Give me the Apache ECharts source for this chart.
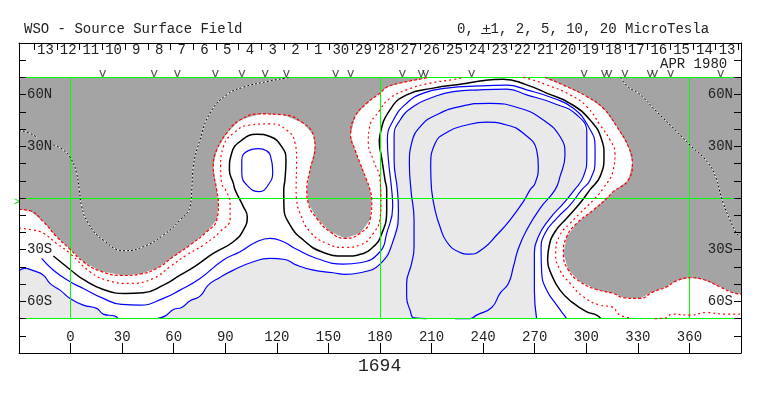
<!DOCTYPE html>
<html>
<head>
<meta charset="utf-8">
<style>
  html, body { margin: 0; padding: 0; background: #fff; }
  #chart { width: 763px; height: 396px; }
</style>
<script src="https://cdn.jsdelivr.net/npm/echarts@6/dist/echarts.min.js"></script>
</head>
<body>
<div id="chart"></div>
<script>
// all contours are [longitude, latitude]
const lonTicks = [0, 30, 60, 90, 120, 150, 180, 210, 240, 270, 300, 330, 360];
const latLabels = { 60: '60N', 30: '30N', '-30': '30S', '-60': '60S' };
const dayTicks = [-21.2, -8, 5.2, 18.4, 31.6, 44.9, 58.1, 71.3, 84.5, 97.7, 110.9, 124.2, 137.4, 150.6, 163.8, 177,
  190.2, 203.5, 216.7, 229.9, 243.1, 256.3, 269.5, 282.8, 296, 309.2, 322.4, 335.6, 348.8, 362.1, 375.3, 388.5];
const dayNames = ['13', '12', '11', '10', '9', '8', '7', '6', '5', '4', '3', '2', '1', '30', '29', '28', '27', '26',
  '25', '24', '23', '22', '21', '20', '19', '18', '17', '16', '15', '14', '13'];
const sectorMarks = [18.7, 48.6, 62.1, 84.2, 99.7, 113.2, 125.6, 154.2, 162.9, 193, 203.9, 206.5, 233.3, 298.7,
  310.6, 313.2, 322.5, 337.1, 339.7, 349.1, 378.2];
const greenVertical = [0, 180, 360];
const greenHorizontal = [70, 0, -70];
const plotBox = [[-30, 70], [390, 70], [390, -70], [-30, -70]];

const red1a = [[-30, -6.6], [-23.6, -7.4], [-15.8, -13.8], [-8.1, -22.5], [-0.3, -29.8], [7.4, -37], [17.1, -42.4],
  [30.7, -45], [40.4, -44.2], [50.1, -40.9], [59.8, -34.1], [69.5, -27.3], [79.2, -19.6], [85, -12.8], [86, -3.1],
  [85, 4.7], [83, 18.2], [85, 27.9], [90.8, 37.6], [98.6, 45.3], [110.2, 48.8], [123.8, 48.3], [135.4, 43.4],
  [141.2, 36.6], [142.2, 29.8], [139.3, 16.3], [137.4, 4.7], [138.3, -3.1], [143.2, -11.8], [150.9, -19.6],
  [159.7, -23.4], [168.4, -20.5], [174.2, -12.8], [175.2, -1.2], [174.2, 4.7], [172.2, 10.5], [168.4, 20.2],
  [165.5, 27.9], [162.9, 36.6], [165.5, 47.3], [172.3, 55], [180, 60.9], [183.9, 64.3], [191.6, 66.7], [205.2, 69.4],
  [208.1, 70]];
const red1b = [[276, 70], [288.6, 64.7], [300.3, 58.9], [309.9, 52.1], [317.7, 41.5], [324.5, 29.8], [326.8, 20.2],
  [324.5, 10.5], [315.7, 3.7], [311.9, -0.2], [304.1, -7], [294.4, -14.7], [288.6, -22.5], [286.7, -32.2],
  [289.6, -41.9], [296.3, -48.6], [305.9, -53.1], [315.7, -55.4], [321.5, -57.8], [331.2, -58.3], [338.9, -54.5],
  [346.7, -51.6], [352.5, -48.1], [360.3, -46.3], [368, -47.3], [377.7, -51.6], [385.3, -55], [390, -55.8]];

const red2a = [[-30, -17.6], [-21.7, -18.6], [-15.8, -20.5], [-8.1, -26.4], [-0.3, -32.2], [11.3, -42.8], [21, -47.7],
  [34.6, -49.6], [48.1, -46.7], [57.8, -39.9], [67.5, -33.1], [77.2, -27.3], [86.9, -19.6], [92.8, -11.8],
  [92.8, -3.1], [90.2, 4.7], [87.9, 8.5], [87.3, 18.2], [88.9, 29.8], [94.7, 37.6], [104.4, 42.4], [116, 43],
  [125.7, 39.5], [130.6, 31.8], [131.5, 22.1], [131.2, 4.7], [131.5, -1.2], [133.5, -8.9], [139.3, -19.6],
  [149, -26.4], [159.7, -28.7], [168.4, -27.3], [176.1, -20.5], [180, -11.8], [180.6, -3.1], [180, 10.5],
  [176.1, 22.1], [173.2, 31.8], [173.8, 40.5], [180, 51.2], [185.8, 57.9], [195.5, 62.8], [209.1, 66.7],
  [221.7, 68.6], [228.5, 70]];
const red2b = [[263.4, 70], [267.3, 69], [277, 65.7], [290.6, 59.9], [300.3, 53.1], [308, 42.4], [313.8, 33.7],
  [316.7, 26], [315.7, 16.3], [309.9, 5.6], [304.1, -1.2], [296.3, -8.9], [290.6, -14.7], [284.7, -21.5],
  [282.2, -32.2], [284.7, -41.9], [290.6, -49.6], [298.3, -57.4], [308, -62.2], [314.8, -63.2], [319.6, -68],
  [326.8, -69.6]];
const red2c = [[340, -70], [346.7, -69.6], [349.6, -67.4], [360.3, -68], [370, -66.5], [379.7, -67.4], [390, -67.4]];

const neutral = [[-10, -33.7], [-0.3, -41.5], [7.4, -47.3], [19, -53.1], [31.7, -55.4], [42.3, -55], [54, -50.6],
  [63.7, -44.8], [71.4, -40.3], [83, -32.2], [94.7, -25.4], [100.5, -18.6], [102.8, -10.9], [100.5, -5], [95.7, 4.7],
  [94.7, 8.5], [92.4, 16.3], [93.7, 26], [98.6, 32.8], [108.3, 37], [116, 35.7], [122.8, 29.8], [125.3, 22.1],
  [124.7, 10.5], [124, 4.7], [124.1, -5], [127.7, -15.7], [135.4, -24.4], [146, -31.2], [159.7, -33.7], [170.3, -32.2],
  [176.1, -28.3], [180, -23.4], [183.9, -7], [183.9, 4.7], [182.9, 10.5], [181, 23.1], [179.6, 32.8], [180, 36.6],
  [185.8, 51.2], [195.5, 59.9], [211, 63.8], [228.5, 66.3], [238.2, 68], [251.7, 69], [265.3, 65.7], [276.9, 60.9],
  [290.5, 55], [302.2, 45.3], [309, 33.7], [310.3, 25], [308, 12.4], [302.1, 4.7], [296.3, -3.1], [288.6, -11.8],
  [281.8, -19.6], [278.3, -28.3], [277.5, -36], [279.9, -44.8], [284.7, -53.5], [291.5, -60.3], [300.3, -66.1],
  [306, -68], [308.4, -70]];

const blue1 = [[-16.8, -35.1], [-10, -41.9], [-0.3, -48.6], [7.4, -52.5], [19, -58.3], [29.7, -61.8], [40.4, -62.2],
  [54, -58.3], [63.7, -53.5], [75.3, -46.7], [88.9, -36], [98.6, -31.2], [108.3, -25.4], [116, -23.4], [123.8, -25.4],
  [131.5, -29.8], [143.2, -35.1], [158.7, -38.4], [168.4, -37.6], [180, -31.2], [183.9, -20.5], [187.4, -5],
  [186.8, 4.7], [184.9, 22.1], [184.3, 33.7], [187.8, 45.3], [195.5, 55], [205.2, 60.9], [218.8, 63.8], [238.2, 65.1],
  [253.7, 65.5], [265.3, 62.8], [280.9, 57.9], [292.5, 52.1], [301.2, 41.5], [305.1, 29.8], [305.1, 22.1],
  [302.2, 10.5], [297.3, 4.7], [290.5, -4.1], [282.8, -11.8], [276, -20.5], [273.7, -30.2], [274.1, -43.8],
  [277, -53.5], [282.8, -62.2], [288.6, -70]];
const blueLoop = [[109.2, 28.7], [103.4, 27.5], [99.6, 22.1], [99.6, 14.3], [103.4, 6.6], [109.8, 3.7], [115, 7.6],
  [117.6, 15.3], [116.4, 24], [114, 27.5], [109.2, 28.7]];
const blue2a = [[-30, -42.2], [-26.5, -40.9], [-21.7, -42.2], [-15.8, -44.8], [-12, -49.6], [-6.1, -53.5],
  [-0.3, -58.3], [7.4, -62.2], [15.2, -64.1], [19, -67.4], [25.8, -68.6], [27.7, -70]];
const blue2b = [[50.1, -70], [54.9, -68.6], [59.8, -64.7], [64.6, -63.6], [69.5, -59.7], [75.3, -57], [80.1, -50.6],
  [86.9, -46.1], [94.7, -41.9], [106.3, -37], [116, -35.1], [124.7, -35.7], [131.5, -39], [141.2, -41.9],
  [152.9, -43.4], [159.7, -44.4], [168.4, -43.4], [180, -38.4], [187.8, -24.4], [190.7, -7], [190.1, 4.7],
  [188.2, 22.1], [188.2, 35.7], [191.7, 45.3], [199.4, 53.1], [209.1, 57.9], [222.7, 61.8], [238.2, 62.8],
  [253.7, 63.2], [265.3, 59.9], [280.9, 55], [294.4, 48.3], [300.3, 37.6], [300.3, 24], [298.3, 12.4], [293.1, 4.7],
  [286.7, -3.1], [278.9, -11.8], [272.1, -22.5], [269.8, -34.1], [269.8, -53.5], [271.1, -70]];
const blue3 = [[207.1, -70], [199.8, -69.6], [197.5, -65.1], [195.5, -57.4], [195.5, -49.6], [198.4, -38],
  [199.8, -28.3], [199.8, -12.8], [198, 4.7], [197.1, 20.2], [198.4, 31.8], [204.3, 42.4], [213, 48.3], [226.5, 53.1],
  [244, 55], [261.4, 52.1], [275, 45.3], [284.7, 35.7], [287.6, 25], [284.7, 12.4], [281.8, 4.7], [273.1, -6],
  [265.3, -18.6], [260.5, -29.3], [257.6, -39.9], [254.7, -49.6], [249.8, -55.4], [245, -63.6], [236.2, -68],
  [232.4, -70], [223.7, -70]];
const blue4 = [[210, 4.7], [212, -7], [214.9, -16.7], [218.8, -25.4], [225.6, -31.2], [232.4, -32.6], [240.1, -29.3],
  [247.9, -21.5], [255.6, -12.8], [263.4, -2.1], [267.3, 4.7], [270.2, 8.5], [272.1, 18.2], [271.1, 27.9],
  [263.4, 37.6], [253.7, 42.4], [242, 44], [230.4, 42.4], [219.8, 38.6], [212.1, 31.8], [209.5, 18.2], [210, 4.7]];

const dotted1 = [[-30, 39.1], [-24.6, 38], [-19.7, 35.3]];
const dotted2 = [[-10, 30.8], [-4.2, 27.9], [0.6, 22.1], [3.5, 14.3], [5.1, 4.7], [6.5, -5], [10.3, -14.7], [19, -24.4],
  [31.7, -30.6], [42.3, -28.3], [54, -21.5], [63.7, -12.8], [69.5, -5], [70.5, 4.7], [71.4, 18.2], [75.3, 33.7],
  [81.1, 49.2], [90.8, 59.9], [100.5, 64.3], [114.1, 67.6], [127.7, 70]];
const dotted3 = [[320, 70], [324.5, 64.3], [330.3, 60.9], [340.9, 50.2], [352.6, 38.6], [360.3, 30.8], [371, 20.2],
  [375.9, 10.5], [377.4, 4.7], [379.7, -3.1], [383.6, -12.8], [387.5, -20.5], [390, -22.9]];

const MONO = '"Liberation Mono", "DejaVu Sans Mono", monospace';
const textStyle = { fontFamily: MONO, fontSize: 14, fontWeight: 'normal', color: '#222' };

function fill(points, color, z) {
  return {
    type: 'custom',
    coordinateSystem: 'cartesian2d',
    silent: true,
    z: z,
    data: [points[0]],
    renderItem: function (params, api) {
      return {
        type: 'polygon',
        shape: { points: points.map(function (p) { return api.coord(p); }) },
        style: { fill: color, stroke: null }
      };
    }
  };
}

function contour(points, color, width, dash, z) {
  return {
    type: 'line',
    data: points,
    showSymbol: false,
    silent: true,
    smooth: 0.5,
    z: z || 3,
    lineStyle: { color: color, width: width, type: dash || 'solid' }
  };
}

// green guides snapped to whole pixels so they stay pure green
function guide(a, b) {
  return {
    type: 'custom',
    coordinateSystem: 'cartesian2d',
    silent: true,
    z: 4,
    data: [a],
    renderItem: function (params, api) {
      const p = api.coord(a);
      const q = api.coord(b);
      return {
        type: 'line',
        shape: {
          x1: Math.floor(p[0]) + 0.5,
          y1: Math.floor(p[1]) + 0.5,
          x2: Math.floor(q[0]) + 0.5,
          y2: Math.floor(q[1]) + 0.5
        },
        style: { stroke: '#00ff00', lineWidth: 1 }
      };
    }
  };
}

const chart = echarts.init(document.getElementById('chart'), null, { renderer: 'canvas' });

const series = [
  fill(plotBox, '#a4a4a4', 1),
  fill(red1a.concat(red1b, [[390, -70], [-30, -70]]), '#ffffff', 1.1),
  fill(blue2a.concat([[-30, -70]]), '#e9e9e9', 1.2),
  fill(blue2b, '#e9e9e9', 1.2)
];
greenVertical.forEach(function (lon) { series.push(guide([lon, 70], [lon, -70])); });
greenHorizontal.forEach(function (lat) { series.push(guide([-30, lat], [390, lat])); });
[blue1, blueLoop, blue2a, blue2b, blue3, blue4].forEach(function (c) { series.push(contour(c, '#0000ff', 1.2)); });
[red1a, red1b].forEach(function (c) { series.push(contour(c, '#ff0000', 1.2, [3, 2], 5)); });
[red2a, red2b, red2c].forEach(function (c) { series.push(contour(c, '#ff0000', 1.2, [2, 3], 5)); });
series.push(contour(neutral, '#000000', 1.5));
[dotted1, dotted2, dotted3].forEach(function (c) {
  series.push(contour(c, '#ffffff', 1));
  series.push(contour(c, '#000000', 1, [2, 2], 5));
});
series.push({
  type: 'scatter',
  data: sectorMarks.map(function (lon) { return [lon, 72]; }),
  symbolSize: 1,
  silent: true,
  z: 7,
  itemStyle: { color: 'transparent' },
  label: {
    show: true,
    position: 'inside',
    formatter: 'v',
    fontFamily: MONO,
    fontSize: 13,
    color: '#222'
  }
});

const dayMids = dayNames.map(function (name, i) { return (dayTicks[i] + dayTicks[i + 1]) / 2; });

function yAxisOf(position) {
  return {
    type: 'value',
    position: position,
    min: -90,
    max: 90,
    interval: 10,
    z: 6,
    splitLine: { show: false },
    axisLine: { show: true, onZero: false, lineStyle: { color: '#000' } },
    axisTick: { show: true, inside: true, length: 7, lineStyle: { color: '#000' } },
    axisLabel: {
      inside: true,
      margin: 8,
      fontFamily: MONO,
      fontSize: 14,
      color: '#222',
      formatter: function (v) { return latLabels[v] || ''; }
    }
  };
}

chart.setOption({
  animation: false,
  backgroundColor: '#ffffff',
  title: [
    { text: 'WSO - Source Surface Field', left: 19, top: 17, textStyle: textStyle },
    { text: '0, +1, 2, 5, 10, 20 MicroTesla', left: 452, top: 17, textStyle: textStyle },
    { text: 'APR 1980', left: 655, top: 52, textStyle: textStyle },
    { text: '1694', left: 353, top: 352, textStyle: { fontFamily: MONO, fontSize: 18, fontWeight: 'normal', color: '#222' } }
  ],
  graphic: [
    { type: 'line', shape: { x1: 481, y1: 33.5, x2: 491, y2: 33.5 }, style: { stroke: '#222', lineWidth: 1 } },
    { type: 'text', left: 14, top: 197, style: { text: '>', fill: '#00dd00', font: '10px ' + MONO } }
  ],
  grid: { left: 19, right: 22, top: 43, bottom: 43, containLabel: false },
  xAxis: [
    {
      type: 'value',
      position: 'bottom',
      min: -30,
      max: 390,
      z: 6,
      splitLine: { show: false },
      axisLine: { show: true, onZero: false, lineStyle: { color: '#000' } },
      axisTick: { show: true, inside: true, length: 10, customValues: lonTicks, lineStyle: { color: '#000' } },
      axisLabel: { inside: true, margin: 9, customValues: lonTicks, fontFamily: MONO, fontSize: 14, color: '#222' }
    },
    {
      type: 'value',
      position: 'top',
      min: -30,
      max: 390,
      z: 6,
      splitLine: { show: false },
      axisLine: { show: true, onZero: false, lineStyle: { color: '#000' } },
      axisTick: { show: true, inside: true, length: 7, customValues: dayTicks, lineStyle: { color: '#000' } },
      axisLabel: {
        inside: true,
        margin: 0,
        customValues: dayMids,
        fontFamily: MONO,
        fontSize: 14,
        color: '#222',
        formatter: function (v) { return dayNames[dayMids.indexOf(v)]; }
      }
    }
  ],
  yAxis: [yAxisOf('left'), yAxisOf('right')],
  series: series
});
</script>
</body>
</html>
